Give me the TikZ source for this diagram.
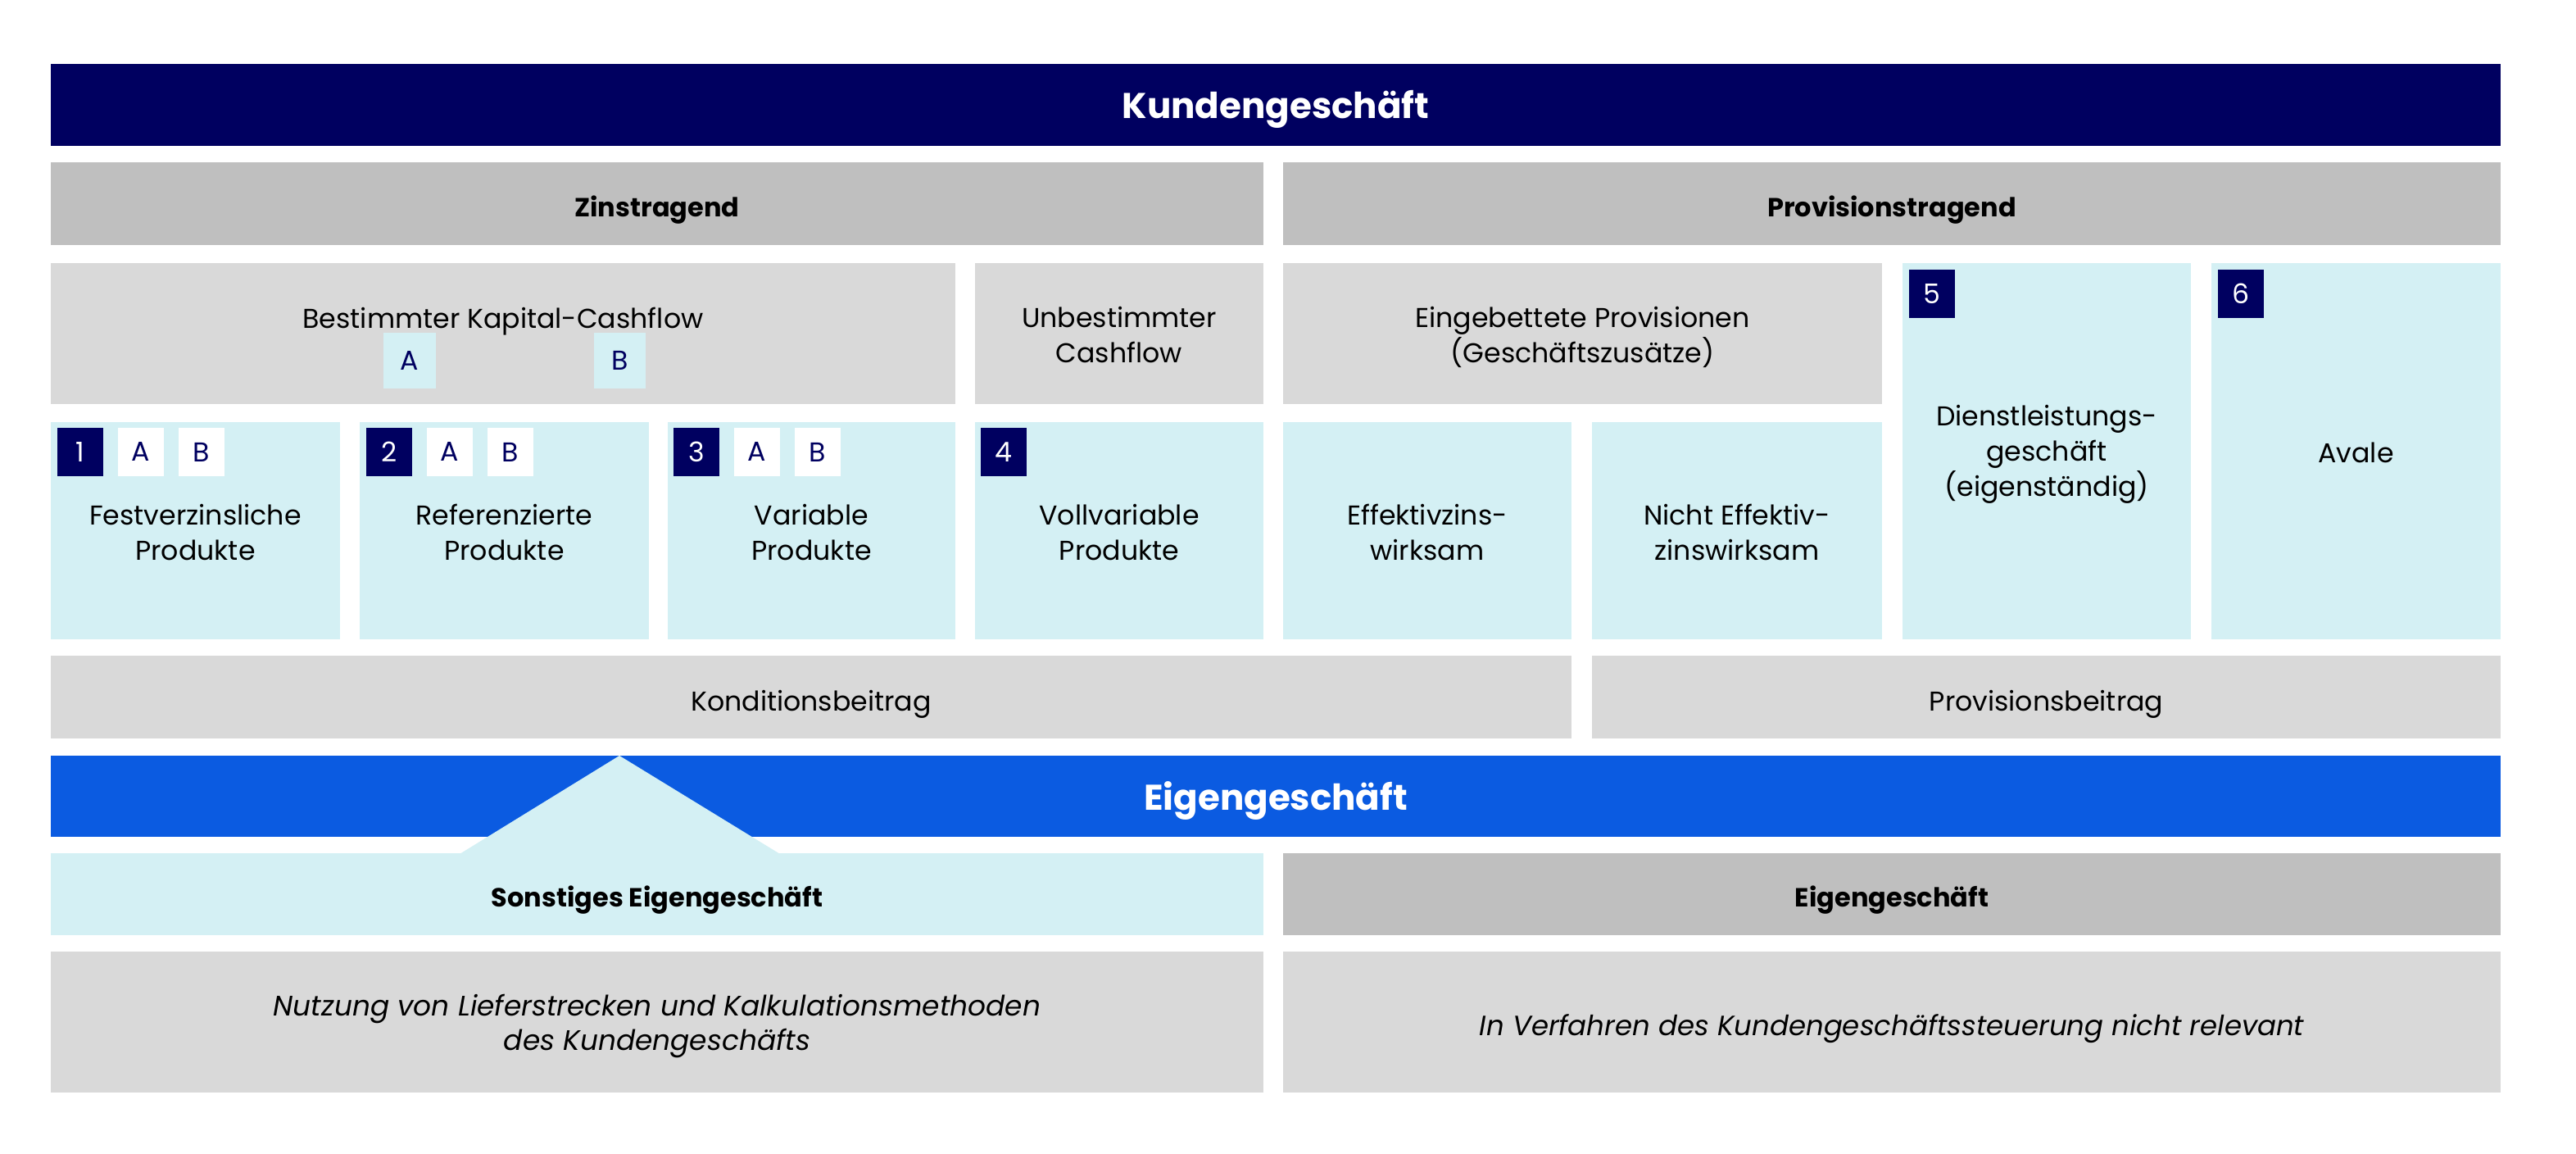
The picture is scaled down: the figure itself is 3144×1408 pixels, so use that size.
\documentclass[tikz,border=0pt]{standalone}
\usepackage{fontspec}
\setmainfont{Poppins}
\usetikzlibrary{fit}
\definecolor{navy}{RGB}{0,0,96}
\definecolor{bluebar}{RGB}{11,91,225}
\definecolor{cyanbox}{RGB}{212,240,244}
\definecolor{lgrey}{RGB}{217,217,217}
\definecolor{mgrey}{RGB}{191,191,191}
\newcommand\mkbox[6]{\node[fit={(#2,#3) (#4,#5)}, inner sep=0pt, outer sep=0pt, draw=none, #6] (#1) {};}
\tikzset{
  navyfill/.style={fill=navy},
  bluefill/.style={fill=bluebar},
  cyanfill/.style={fill=cyanbox},
  lgfill/.style={fill=lgrey},
  mgfill/.style={fill=mgrey},
  whitefill/.style={fill=white},
  bigtitle/.style={text=white, font=\fontsize{10.9}{14}\selectfont\bfseries, inner sep=0pt, anchor=base, yshift=-4.2pt},
  headtxt/.style={text=black, font=\fontsize{8}{10.75}\selectfont\bfseries, inner sep=0pt, anchor=base, yshift=-3.9pt},
  bodytxt/.style={text=black, font=\fontsize{8.3}{10.75}\selectfont, align=center, inner sep=0pt, yshift=-0.4pt},
  onetxt/.style={text=black, font=\fontsize{8.3}{10.75}\selectfont, inner sep=0pt, anchor=base, yshift=-4.2pt},
  ittxt/.style={text=black, font=\fontsize{8.6}{10.5}\selectfont\itshape, align=center, inner sep=0pt, yshift=-1.25pt},
  itone/.style={text=black, font=\fontsize{8.5}{10.5}\selectfont\itshape, inner sep=0pt, anchor=base, yshift=-4pt},
  numtxt/.style={text=white, font=\fontsize{8.3}{10}\selectfont, inner sep=0pt},
  lettxt/.style={text=navy, font=\fontsize{8.3}{10}\selectfont, inner sep=0pt},
}
\begin{document}
\begin{tikzpicture}[x=0.25pt,y=-0.25pt]
\useasboundingbox[fill=white] (0,0) rectangle (3144,1408);
% top title
\mkbox{kg}{62}{78}{3052}{178}{navyfill}
\node[bigtitle] (kgt) at (kg.center) {Kundengeschäft};
% headers
\mkbox{zins}{62}{198}{1542}{299}{mgfill}
\node[headtxt] (zinst) at (zins.center) {Zinstragend};
\mkbox{prov}{1566}{198}{3052}{299}{mgfill}
\node[headtxt] (provt) at (prov.center) {Provisionstragend};
% row 3
\mkbox{bkc}{62}{321}{1166}{493}{lgfill}
\node[onetxt] (bkct) at (614,384) {Bestimmter Kapital-Cashflow};
\mkbox{bkcA}{468}{406}{532}{474}{cyanfill}
\node[lettxt] (bkcAt) at (bkcA.center) {A};
\mkbox{bkcB}{725}{406}{788}{474}{cyanfill}
\node[lettxt] (bkcBt) at (bkcB.center) {B};
\mkbox{ucf}{1190}{321}{1542}{493}{lgfill}
\node[bodytxt] (ucft) at (ucf.center) {Unbestimmter\\Cashflow};
\mkbox{ep}{1566}{321}{2297}{493}{lgfill}
\node[bodytxt, yshift=-0.6pt] (ept) at (ep.center) {Eingebettete Provisionen\\(Geschäftszusätze)};
\mkbox{dl}{2322}{321}{2674}{780}{cyanfill}
\node[bodytxt, yshift=-0.6pt] (dlt) at (dl.center) {Dienstleistungs-\\geschäft\\(eigenständig)};
\mkbox{dln}{2330}{329}{2386}{388}{navyfill}
\node[numtxt] (dlnt) at (dln.center) {5};
\mkbox{av}{2699}{321}{3052}{780}{cyanfill}
\node[onetxt, yshift=0.6pt] (avt) at (av.center) {Avale};
\mkbox{avn}{2707}{329}{2763}{388}{navyfill}
\node[numtxt] (avnt) at (avn.center) {6};
% row 4
\mkbox{pa}{62}{515}{415}{780}{cyanfill}
\node[bodytxt] (pat) at (pa.center) {Festverzinsliche\\Produkte};
\mkbox{pan}{70}{522}{126}{581}{navyfill}
\node[numtxt] (pant) at (pan.center) {1};
\mkbox{paA}{144}{522}{200}{581}{whitefill}
\node[lettxt] (paAt) at (paA.center) {A};
\mkbox{paB}{218}{522}{274}{581}{whitefill}
\node[lettxt] (paBt) at (paB.center) {B};
\mkbox{pb}{439}{515}{792}{780}{cyanfill}
\node[bodytxt] (pbt) at (pb.center) {Referenzierte\\Produkte};
\mkbox{pbn}{447}{522}{503}{581}{navyfill}
\node[numtxt] (pbnt) at (pbn.center) {2};
\mkbox{pbA}{521}{522}{577}{581}{whitefill}
\node[lettxt] (pbAt) at (pbA.center) {A};
\mkbox{pbB}{595}{522}{651}{581}{whitefill}
\node[lettxt] (pbBt) at (pbB.center) {B};
\mkbox{pc}{815}{515}{1166}{780}{cyanfill}
\node[bodytxt] (pct) at (pc.center) {Variable\\Produkte};
\mkbox{pcn}{822}{522}{878}{581}{navyfill}
\node[numtxt] (pcnt) at (pcn.center) {3};
\mkbox{pcA}{896}{522}{952}{581}{whitefill}
\node[lettxt] (pcAt) at (pcA.center) {A};
\mkbox{pcB}{970}{522}{1026}{581}{whitefill}
\node[lettxt] (pcBt) at (pcB.center) {B};
\mkbox{pd}{1190}{515}{1542}{780}{cyanfill}
\node[bodytxt] (pdt) at (pd.center) {Vollvariable\\Produkte};
\mkbox{pdn}{1197}{522}{1253}{581}{navyfill}
\node[numtxt] (pdnt) at (pdn.center) {4};
\mkbox{ez}{1566}{515}{1918}{780}{cyanfill}
\node[bodytxt] (ezt) at (ez.center) {Effektivzins-\\wirksam};
\mkbox{nez}{1943}{515}{2297}{780}{cyanfill}
\node[bodytxt] (nezt) at (nez.center) {Nicht Effektiv-\\zinswirksam};
% row 5
\mkbox{kb}{62}{800}{1918}{901}{lgfill}
\node[onetxt] (kbt) at (kb.center) {Konditionsbeitrag};
\mkbox{pvb}{1943}{800}{3052}{901}{lgfill}
\node[onetxt] (pvbt) at (pvb.center) {Provisionsbeitrag};
% Eigengeschaeft
\mkbox{eg}{62}{922}{3052}{1021}{bluefill}
\fill[cyanbox] (756,922) -- (561,1042) -- (952,1042) -- cycle;
\node[bigtitle] (egt) at (eg.center) {Eigengeschäft};
\mkbox{seg}{62}{1041}{1542}{1141}{cyanfill}
\node[headtxt] (segt) at (seg.center) {Sonstiges Eigengeschäft};
\mkbox{eg2}{1566}{1041}{3052}{1141}{mgfill}
\node[headtxt] (eg2t) at (eg2.center) {Eigengeschäft};
\mkbox{nu}{62}{1161}{1542}{1333}{lgfill}
\node[ittxt] (nut) at (nu.center) {Nutzung von Lieferstrecken und Kalkulationsmethoden\\des Kundengeschäfts};
\mkbox{vf}{1566}{1161}{3052}{1333}{lgfill}
\node[itone] (vft) at (vf.center) {In Verfahren des Kundengeschäftssteuerung nicht relevant};
\end{tikzpicture}
\end{document}
